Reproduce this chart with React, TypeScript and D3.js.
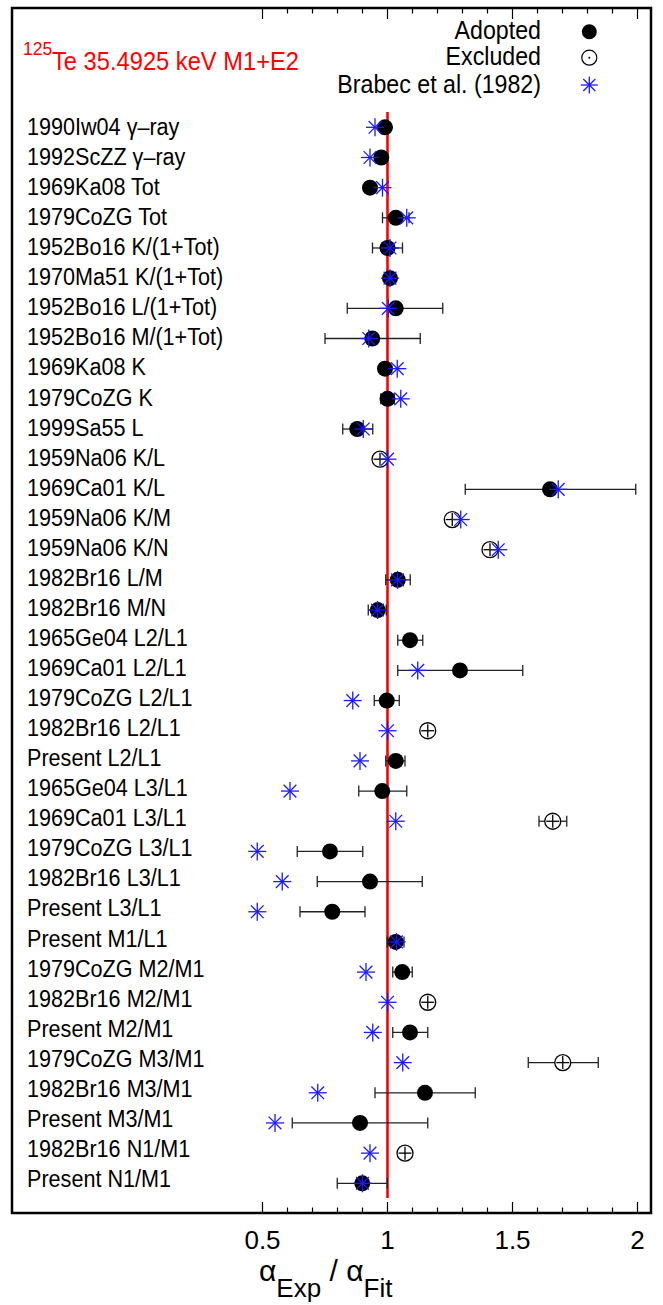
import * as d3 from 'd3';
import * as React from 'react';

const width = 663;
const height = 1305;
const box = { left: 12, right: 651, top: 8, bottom: 1213 };
const font = '"Liberation Sans", Arial, Helvetica, sans-serif';

const labels = [
  '1990Iw04 γ–ray', '1992ScZZ γ–ray', '1969Ka08 Tot', '1979CoZG Tot',
  '1952Bo16 K/(1+Tot)', '1970Ma51 K/(1+Tot)', '1952Bo16 L/(1+Tot)', '1952Bo16 M/(1+Tot)',
  '1969Ka08 K', '1979CoZG K', '1999Sa55 L', '1959Na06 K/L',
  '1969Ca01 K/L', '1959Na06 K/M', '1959Na06 K/N', '1982Br16 L/M',
  '1982Br16 M/N', '1965Ge04 L2/L1', '1969Ca01 L2/L1', '1979CoZG L2/L1',
  '1982Br16 L2/L1', 'Present L2/L1', '1965Ge04 L3/L1', '1969Ca01 L3/L1',
  '1979CoZG L3/L1', '1982Br16 L3/L1', 'Present L3/L1', 'Present M1/L1',
  '1979CoZG M2/M1', '1982Br16 M2/M1', 'Present M2/M1', '1979CoZG M3/M1',
  '1982Br16 M3/M1', 'Present M3/M1', '1982Br16 N1/M1', 'Present N1/M1',
];

// A = adopted (filled), E = excluded (open)
const status = [
  'A', 'A', 'A', 'A', 'A', 'A', 'A', 'A', 'A', 'A', 'A', 'E',
  'A', 'E', 'E', 'A', 'A', 'A', 'A', 'A', 'E', 'A', 'A', 'E',
  'A', 'A', 'A', 'A', 'A', 'E', 'A', 'E', 'A', 'A', 'E', 'A',
];

const ratio = [
  0.99, 0.975, 0.93, 1.033, 1.0, 1.01, 1.033, 0.939, 0.99, 1.0, 0.879, 0.97,
  1.65, 1.259, 1.41, 1.041, 0.961, 1.09, 1.29, 0.997, 1.161, 1.033, 0.979, 1.661,
  0.77, 0.93, 0.779, 1.033, 1.059, 1.161, 1.09, 1.701, 1.15, 0.89, 1.07, 0.899,
];

const errLow: (number | null)[] = [
  null, null, null, 0.98, 0.94, 0.99, 0.839, 0.75, null, 0.973, 0.821, null,
  1.311, null, null, 0.993, 0.923, 1.041, 1.041, 0.947, null, 0.993, 0.885, 1.606,
  0.639, 0.719, 0.65, 0.999, 1.021, null, 1.021, 1.563, 0.95, 0.619, null, 0.799,
];

const errHigh: (number | null)[] = [
  null, null, null, 1.086, 1.06, 1.03, 1.221, 1.131, null, 1.027, 0.941, null,
  1.993, null, null, 1.091, 0.995, 1.141, 1.541, 1.047, null, 1.07, 1.077, 1.717,
  0.901, 1.139, 0.91, 1.066, 1.099, null, 1.161, 1.843, 1.351, 1.161, null, 0.999,
];

const brabec: (number | null)[] = [
  0.95, 0.93, 0.98, 1.077, 1.01, 1.01, 1.003, 0.925, 1.039, 1.053, 0.903, 1.0,
  1.683, 1.293, 1.443, 1.04, 0.96, null, 1.121, 0.861, 1.0, 0.89, 0.61, 1.033,
  0.479, 0.579, 0.479, 1.036, 0.914, 1.0, 0.941, 1.061, 0.721, 0.55, 0.93, 0.9,
];

const majorTicks = [0.5, 1, 1.5, 2];
const tickLabels = ['0.5', '1', '1.5', '2'];

const x = d3.scaleLinear().domain([0.5, 2]).range([262.5, 637.5]);
const y = d3.scalePoint<string>().domain(labels).range([127.3, 1183.3]);
const yLabel = d3.scalePoint<string>().domain(labels).range([135, 1187]);
const minorTicks = d3.range(5, 21).map(d => d / 10);

const Star = ({ cx, cy, r }: { cx: number; cy: number; r: number }) => {
  const d = r * Math.SQRT1_2;
  return (
    <g stroke="#1a1aff" strokeWidth={1.3}>
      <line x1={cx - r} y1={cy} x2={cx + r} y2={cy} />
      <line x1={cx} y1={cy - r} x2={cx} y2={cy + r} />
      <line x1={cx - d} y1={cy - d} x2={cx + d} y2={cy + d} />
      <line x1={cx - d} y1={cy + d} x2={cx + d} y2={cy - d} />
    </g>
  );
};

export default () => {
  return (
    <svg
      width={width}
      height={height}
      viewBox={`0 0 ${width} ${height}`}
      style={{ position: 'absolute', left: 0, top: 0, background: '#fff' }}
      fontFamily={font}
    >
      {/* title */}
      <text x={23} y={55} fill="#ff0000" fontSize={17.5} transform="translate(0,-5.5) scale(1,1.1)">
        125
      </text>
      <text x={52} y={0} fill="#ff0000" fontSize={23.7} transform="translate(0,70) scale(1,1.12)">
        Te 35.4925 keV M1+E2
      </text>

      {/* legend */}
      {['Adopted', 'Excluded', 'Brabec et al. (1982)'].map((t, i) => (
        <text
          key={t}
          x={541}
          y={0}
          textAnchor="end"
          fontSize={23.2}
          transform={`translate(0,${[39, 65, 92.5][i]}) scale(1,1.1)`}
        >
          {t}
        </text>
      ))}
      <circle cx={589.3} cy={31.7} r={7.5} fill="#000" />
      <circle cx={589.3} cy={57.7} r={7.5} fill="none" stroke="#000" strokeWidth={1.2} />
      <circle cx={589.3} cy={57.7} r={1} fill="#000" />
      <Star cx={589.3} cy={85} r={8.5} />

      {/* reference line */}
      <line x1={x(1)} x2={x(1)} y1={112} y2={1198} stroke="#ff0000" strokeWidth={2.6} />

      {/* rows */}
      {labels.map((label, i) => {
        const cy = y(label) as number;
        const lo = errLow[i];
        const hi = errHigh[i];
        const b = brabec[i];
        return (
          <g key={label}>
            <text
              x={0}
              y={0}
              fontSize={21.6}
              transform={`translate(27,${yLabel(label)}) scale(1,1.08)`}
            >
              {label}
            </text>
            {lo !== null && hi !== null && (
              <g stroke="#222" strokeWidth={1.3}>
                <line x1={x(lo)} x2={x(hi)} y1={cy} y2={cy} />
                <line x1={x(lo)} x2={x(lo)} y1={cy - 5.5} y2={cy + 5.5} />
                <line x1={x(hi)} x2={x(hi)} y1={cy - 5.5} y2={cy + 5.5} />
              </g>
            )}
            {status[i] === 'A' ? (
              <circle cx={x(ratio[i])} cy={cy} r={8} fill="#000" />
            ) : (
              <g stroke="#000" strokeWidth={1.3} fill="none">
                <circle cx={x(ratio[i])} cy={cy} r={8} fill="#fff" />
                <line x1={x(ratio[i]) - 6.5} x2={x(ratio[i]) + 6.5} y1={cy} y2={cy} />
                <line x1={x(ratio[i])} x2={x(ratio[i])} y1={cy - 6.5} y2={cy + 6.5} />
              </g>
            )}
            {b !== null && <Star cx={x(b)} cy={cy} r={9} />}
          </g>
        );
      })}

      {/* axis ticks, top and bottom */}
      <g stroke="#000" strokeWidth={1.2}>
        {minorTicks.map(t => {
          const major = majorTicks.some(m => Math.abs(m - t) < 1e-6);
          const len = major ? 11 : 5.5;
          return (
            <g key={t}>
              <line x1={x(t)} x2={x(t)} y1={box.bottom} y2={box.bottom - len} />
              <line x1={x(t)} x2={x(t)} y1={box.top} y2={box.top + len} />
            </g>
          );
        })}
      </g>

      {/* frame */}
      <rect
        x={box.left}
        y={box.top}
        width={box.right - box.left}
        height={box.bottom - box.top}
        fill="none"
        stroke="#000"
        strokeWidth={2.5}
      />

      {/* tick labels */}
      {majorTicks.map((t, i) => (
        <text key={t} x={x(t)} y={1249} fontSize={26} textAnchor="middle">
          {tickLabels[i]}
        </text>
      ))}

      {/* axis title */}
      <text x={259} y={1281} fontSize={30}>
        <tspan>α</tspan>
        <tspan fontSize={26} dy={16}>Exp</tspan>
        <tspan dy={-16}> / α</tspan>
        <tspan fontSize={26} dy={16}>Fit</tspan>
      </text>
    </svg>
  );
};
